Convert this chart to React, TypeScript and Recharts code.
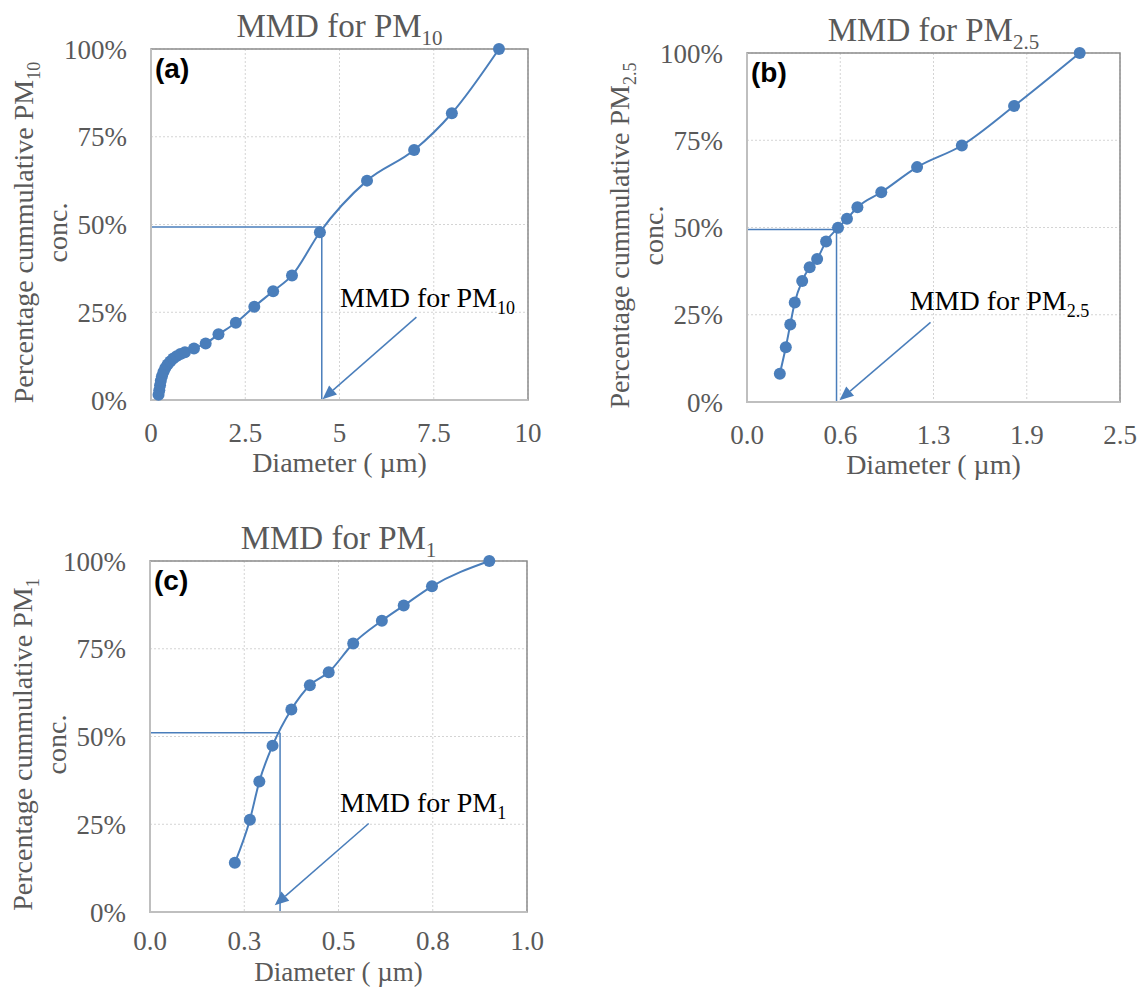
import React from 'react';
import {
  LineChart,
  Line,
  XAxis,
  YAxis,
  CartesianGrid,
  ReferenceLine,
  ReferenceDot,
  ReferenceArea,
} from 'recharts';

// ---------------- DATA ----------------
// Panel (a) PM10
const pm10Diameter = [
  0.2, 0.22, 0.24, 0.26, 0.29, 0.33, 0.38, 0.44, 0.51, 0.59, 0.68, 0.78, 0.9,
  1.14, 1.45, 1.79, 2.25, 2.74, 3.24, 3.74, 4.48, 5.73, 6.98, 7.98, 9.23,
];
const pm10Cumulative = [
  1.5, 2.8, 4.2, 5.5, 6.8, 8.0, 9.1, 10.1, 11.0, 11.8, 12.5, 13.1, 13.6,
  14.7, 16.1, 18.7, 22.0, 26.6, 31.0, 35.5, 47.8, 62.5, 71.2, 81.7, 100,
];
const pm10XTicks = [0, 2.5, 5, 7.5, 10];
const pm10XTickLabels = ['0', '2.5', '5', '7.5', '10'];
const pm10Mmd = { x: 4.53, y: 49.3 };
const pm10Arrow = [
  { x: 7.04, y: 23.6 },
  { x: 4.55, y: 0.2 },
];
const pm10Note = { x: 5.01, y: 26.6 };

// Panel (b) PM2.5
const pm25Diameter = [
  0.22, 0.26, 0.29, 0.32, 0.37, 0.42, 0.47, 0.53, 0.61, 0.67, 0.74, 0.9, 1.14,
  1.44, 1.79, 2.23,
];
const pm25Cumulative = [
  8.1, 15.7, 22.2, 28.5, 34.7, 38.6, 41.0, 46.0, 49.9, 52.5, 55.8, 60.1, 67.3,
  73.5, 84.8, 100,
];
const pm25XTicks = [0, 0.625, 1.25, 1.875, 2.5];
const pm25XTickLabels = ['0.0', '0.6', '1.3', '1.9', '2.5'];
const pm25Mmd = { x: 0.6, y: 49.4 };
const pm25Arrow = [
  { x: 1.23, y: 22.8 },
  { x: 0.62, y: 0.5 },
];
const pm25Note = { x: 1.09, y: 26.3 };

// Panel (c) PM1
const pm1Diameter = [
  0.225, 0.265, 0.29, 0.325, 0.375, 0.424, 0.474, 0.539, 0.615, 0.673, 0.748,
  0.9,
];
const pm1Cumulative = [
  14.0, 26.3, 37.2, 47.4, 57.7, 64.6, 68.3, 76.5, 83.0, 87.3, 92.8, 100,
];
const pm1XTicks = [0, 0.25, 0.5, 0.75, 1];
const pm1XTickLabels = ['0.0', '0.3', '0.5', '0.8', '1.0'];
const pm1Mmd = { x: 0.345, y: 51.1 };
const pm1Arrow = [
  { x: 0.58, y: 25.2 },
  { x: 0.331, y: 1.9 },
];
const pm1Note = { x: 0.504, y: 28.5 };

const yTicks = [0, 25, 50, 75, 100];
const yTickLabels = ['0%', '25%', '50%', '75%', '100%'];

// ---------------- STYLE ----------------
const SERIF = '"Liberation Serif", "Times New Roman", serif';
const SANS = '"Liberation Sans", Arial, sans-serif';
const BLUE = '#4a7ebb';
const GREY_TEXT = '#595959';

type Pt = { x: number; y: number };
type Box = {
  left: number;
  top: number;
  width: number;
  height: number;
  plotLeft: number;
  plotRight: number;
  plotTop: number;
  plotBottom: number;
  xAxisHeight: number;
  xTickGap: number;
  xTitleGap: number;
  xTitleSize: number;
};

type PanelProps = {
  letter: string;
  sub: string;
  xs: number[];
  ys: number[];
  xTicks: number[];
  xTickLabels: string[];
  mmd: Pt;
  arrow: Pt[];
  note: Pt;
  box: Box;
};

const ArrowShape = (p: any) => {
  const { x1, y1, x2, y2 } = p;
  if ([x1, y1, x2, y2].some((v) => v == null || isNaN(v))) return null;
  const dx = x2 - x1;
  const dy = y2 - y1;
  const len = Math.hypot(dx, dy) || 1;
  const ux = dx / len;
  const uy = dy / len;
  const hl = 14;
  const hw = 6;
  const bx = x2 - ux * hl;
  const by = y2 - uy * hl;
  const pts = `${x2},${y2} ${bx - uy * hw},${by + ux * hw} ${bx + uy * hw},${by - ux * hw}`;
  return (
    <g>
      <line x1={x1} y1={y1} x2={bx} y2={by} stroke={BLUE} strokeWidth={1.5} />
      <polygon points={pts} fill={BLUE} />
    </g>
  );
};

const Panel = ({ letter, sub, xs, ys, xTicks, xTickLabels, mmd, arrow, note, box }: PanelProps) => {
  const data = xs.map((x, i) => ({ x, y: ys[i] }));
  const xDomain: [number, number] = [xTicks[0], xTicks[xTicks.length - 1]];
  const yAxisWidth = box.plotLeft - box.left;
  const margin = {
    top: box.plotTop - box.top,
    right: box.left + box.width - box.plotRight,
    bottom: box.top + box.height - box.plotBottom - box.xAxisHeight,
    left: 0,
  };
  const pl = box.plotLeft - box.left;
  const pr = box.plotRight - box.left;
  const pt = box.plotTop - box.top;
  const pb = box.plotBottom - box.top;
  const pcx = (pl + pr) / 2;
  const pcy = (pt + pb) / 2 + 8;
  const l1 = pl - 118;
  const l2 = pl - 84;

  const Texts = () => (
    <g>
      <text x={pcx} y={pt - 12} textAnchor="middle" fill={GREY_TEXT} fontSize={33} fontFamily={SERIF}>
        MMD for PM
        <tspan fontSize={21} dy={8}>
          {sub}
        </tspan>
      </text>
      <text
        x={l1}
        y={pcy}
        transform={`rotate(-90 ${l1} ${pcy})`}
        textAnchor="middle"
        fill={GREY_TEXT}
        fontSize={28}
        fontFamily={SERIF}
      >
        Percentage cummulative PM
        <tspan fontSize={18} dy={7}>
          {sub}
        </tspan>
      </text>
      <text
        x={l2}
        y={pcy}
        transform={`rotate(-90 ${l2} ${pcy})`}
        textAnchor="middle"
        fill={GREY_TEXT}
        fontSize={28}
        fontFamily={SERIF}
      >
        conc.
      </text>
      <text
        x={pcx}
        y={pb + box.xTitleGap}
        textAnchor="middle"
        fill={GREY_TEXT}
        fontSize={box.xTitleSize}
        fontFamily={SERIF}
      >
        Diameter ( µm)
      </text>
      <text x={pl + 4} y={pt + 29} fill="#000" fontSize={28} fontWeight="bold" fontFamily={SANS}>
        ({letter})
      </text>
    </g>
  );

  return (
    <div style={{ position: 'absolute', left: box.left, top: box.top, width: box.width, height: box.height }}>
      <LineChart width={box.width} height={box.height} data={data} margin={margin}>
        <CartesianGrid stroke="#d4d4d4" strokeDasharray="2 2" />
        <ReferenceArea
          x1={xDomain[0]}
          x2={xDomain[1]}
          y1={0}
          y2={100}
          fill="none"
          fillOpacity={0}
          stroke="#8c8c8c"
          strokeWidth={1.5}
        />
        <XAxis
          type="number"
          dataKey="x"
          domain={xDomain}
          ticks={xTicks}
          interval={0}
          tickFormatter={(v: number) => {
            const i = xTicks.indexOf(v);
            return i >= 0 ? xTickLabels[i] : String(v);
          }}
          height={box.xAxisHeight}
          tickLine={false}
          tickSize={0}
          tickMargin={box.xTickGap}
          axisLine={{ stroke: '#bfbfbf', strokeWidth: 2 }}
          tick={{ fill: GREY_TEXT, fontSize: 27, fontFamily: SERIF }}
        />
        <YAxis
          type="number"
          domain={[0, 100]}
          ticks={yTicks}
          interval={0}
          tickFormatter={(v: number) => {
            const i = yTicks.indexOf(v);
            return i >= 0 ? yTickLabels[i] : String(v);
          }}
          width={yAxisWidth}
          tickLine={false}
          tickSize={0}
          tickMargin={24}
          axisLine={{ stroke: '#bfbfbf', strokeWidth: 2 }}
          tick={{ fill: GREY_TEXT, fontSize: 27, fontFamily: SERIF }}
          label={{ content: Texts }}
        />
        <ReferenceLine
          segment={[
            { x: xDomain[0], y: mmd.y },
            { x: mmd.x, y: mmd.y },
          ]}
          stroke={BLUE}
          strokeWidth={1.5}
        />
        <ReferenceLine
          segment={[
            { x: mmd.x, y: mmd.y },
            { x: mmd.x, y: 0 },
          ]}
          stroke={BLUE}
          strokeWidth={1.5}
        />
        <ReferenceLine segment={arrow as any} shape={ArrowShape} />
        <ReferenceDot
          x={note.x}
          y={note.y}
          r={1}
          shape={(p: any) => (
            <text x={p.cx} y={p.cy} fill="#000" fontSize={28} fontFamily={SERIF}>
              MMD for PM
              <tspan fontSize={18} dy={7}>
                {sub}
              </tspan>
            </text>
          )}
        />
        <Line
          type="monotone"
          dataKey="y"
          stroke={BLUE}
          strokeWidth={2}
          dot={{ r: 6, fill: BLUE, stroke: BLUE, strokeWidth: 0 }}
          activeDot={false}
          isAnimationActive={false}
        />
      </LineChart>
    </div>
  );
};

export default function App() {
  return (
    <div style={{ position: 'absolute', left: 0, top: 0, width: 1141, height: 987, background: '#fff' }}>
      <Panel
        letter="a"
        sub="10"
        xs={pm10Diameter}
        ys={pm10Cumulative}
        xTicks={pm10XTicks}
        xTickLabels={pm10XTickLabels}
        mmd={pm10Mmd}
        arrow={pm10Arrow}
        note={pm10Note}
        box={{
          left: 0,
          top: 0,
          width: 560,
          height: 490,
          plotLeft: 151,
          plotRight: 528,
          plotTop: 49,
          plotBottom: 400,
          xAxisHeight: 80,
          xTickGap: 23,
          xTitleGap: 72,
          xTitleSize: 28,
        }}
      />
      <Panel
        letter="b"
        sub="2.5"
        xs={pm25Diameter}
        ys={pm25Cumulative}
        xTicks={pm25XTicks}
        xTickLabels={pm25XTickLabels}
        mmd={pm25Mmd}
        arrow={pm25Arrow}
        note={pm25Note}
        box={{
          left: 590,
          top: 0,
          width: 551,
          height: 490,
          plotLeft: 747,
          plotRight: 1120,
          plotTop: 53,
          plotBottom: 402,
          xAxisHeight: 80,
          xTickGap: 23,
          xTitleGap: 72,
          xTitleSize: 28,
        }}
      />
      <Panel
        letter="c"
        sub="1"
        xs={pm1Diameter}
        ys={pm1Cumulative}
        xTicks={pm1XTicks}
        xTickLabels={pm1XTickLabels}
        mmd={pm1Mmd}
        arrow={pm1Arrow}
        note={pm1Note}
        box={{
          left: 0,
          top: 511,
          width: 560,
          height: 476,
          plotLeft: 150,
          plotRight: 527,
          plotTop: 561,
          plotBottom: 912,
          xAxisHeight: 70,
          xTickGap: 19,
          xTitleGap: 69,
          xTitleSize: 27,
        }}
      />
    </div>
  );
}
